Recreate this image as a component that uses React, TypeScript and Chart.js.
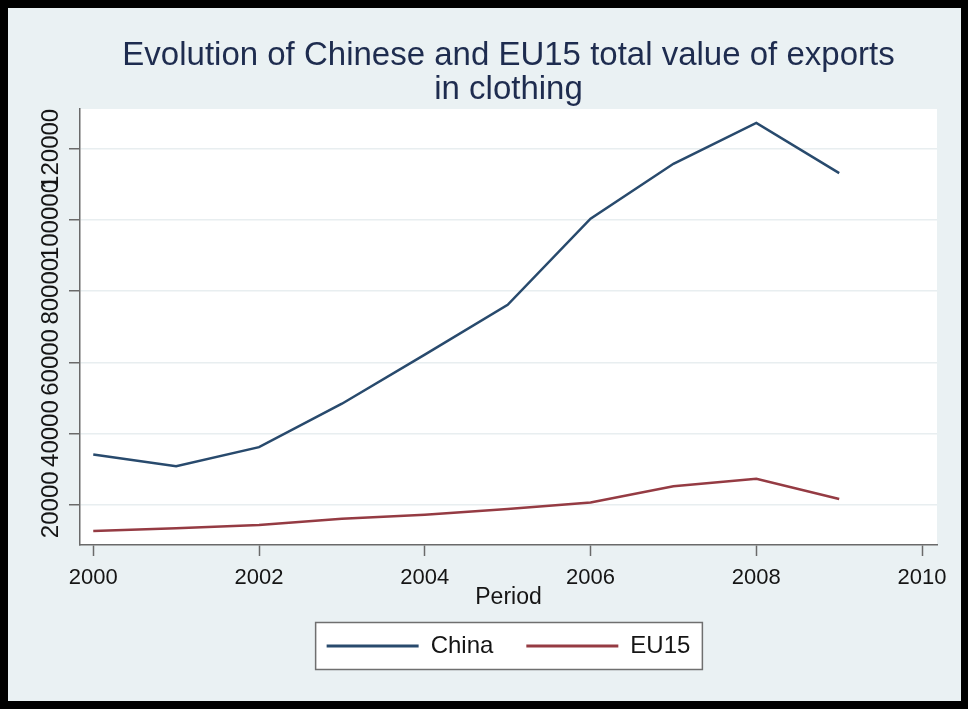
import React, { useEffect, useRef } from 'react';
import { Chart, registerables } from 'chart.js';

Chart.register(...registerables);

// ---- data ----
const years = [2000, 2001, 2002, 2003, 2004, 2005, 2006, 2007, 2008, 2009];
const chinaValues = [34100, 30800, 36200, 48400, 62200, 76200, 100400, 115800, 127300, 113200];
const eu15Values = [12650, 13400, 14350, 16100, 17200, 18800, 20650, 25200, 27300, 21600];
const xTickValues = [2000, 2002, 2004, 2006, 2008, 2010];
const yTickValues = [20000, 40000, 60000, 80000, 100000, 120000];
const seriesNames = ['China', 'EU15'];
const titleLines = ['Evolution of Chinese and EU15 total value of exports', 'in clothing'];
const xAxisTitle = 'Period';

const FAMILY = "'Liberation Sans', Arial, sans-serif";
const CHINA_COLOR = '#284a6d';
const EU_COLOR = '#953b43';
const AXIS_COLOR = '#6a6a6a';
const TEXT_COLOR = '#151515';
const Y_TICK_SIZE = 24;

const backdropPlugin = {
  id: 'backdrop',
  beforeDraw(chart: any) {
    const { ctx, chartArea: a } = chart;
    ctx.save();
    ctx.fillStyle = '#ffffff';
    ctx.fillRect(a.left, a.top, a.right - a.left, a.bottom - a.top);
    const lg = chart.legend;
    if (lg && lg.legendHitBoxes && lg.legendHitBoxes.length) {
      const hb = lg.legendHitBoxes;
      const left = Math.min(...hb.map((h: any) => h.left)) - 11;
      const right = Math.max(...hb.map((h: any) => h.left + h.width)) + 12;
      const cy = hb[0].top + hb[0].height / 2;
      ctx.fillStyle = '#ffffff';
      ctx.fillRect(left, cy - 23.5, right - left, 47);
      ctx.strokeStyle = '#6f6f6f';
      ctx.lineWidth = 1.5;
      ctx.strokeRect(left, cy - 23.5, right - left, 47);
    }
    ctx.restore();
  },
};

export default function App() {
  const canvasRef = useRef<HTMLCanvasElement | null>(null);

  useEffect(() => {
    const canvas = canvasRef.current;
    if (!canvas) return;
    const mctx = document.createElement('canvas').getContext('2d')!;
    mctx.font = `${Y_TICK_SIZE}px ${FAMILY}`;
    const widest = Math.max(...yTickValues.map((v) => mctx.measureText(String(v)).width));

    const chart = new Chart(canvas, {
      type: 'line',
      data: {
        datasets: [
          {
            label: seriesNames[0],
            data: years.map((x, i) => ({ x, y: chinaValues[i] })),
            borderColor: CHINA_COLOR,
            backgroundColor: CHINA_COLOR,
            borderWidth: 2.5,
            pointRadius: 0,
            tension: 0,
            fill: false,
          },
          {
            label: seriesNames[1],
            data: years.map((x, i) => ({ x, y: eu15Values[i] })),
            borderColor: EU_COLOR,
            backgroundColor: EU_COLOR,
            borderWidth: 2.5,
            pointRadius: 0,
            tension: 0,
            fill: false,
          },
        ],
      },
      options: {
        responsive: false,
        animation: false,
        layout: { padding: { left: 0, right: 24, top: 0, bottom: 33 } },
        plugins: {
          tooltip: { enabled: false },
          title: {
            display: true,
            text: titleLines,
            fullSize: false,
            color: '#1e2c4f',
            font: { size: 33, family: FAMILY, weight: 'normal', lineHeight: 34 / 33 },
            padding: { top: 31, bottom: 2 },
          },
          legend: {
            display: true,
            position: 'bottom',
            fullSize: false,
            labels: {
              boxWidth: 92,
              boxHeight: 3,
              padding: 33,
              color: TEXT_COLOR,
              font: { size: 24, family: FAMILY },
              generateLabels: (c: any) =>
                (Chart.defaults.plugins.legend.labels as any)
                  .generateLabels(c)
                  .map((it: any) => ({ ...it, fillStyle: it.strokeStyle, lineWidth: 0 })),
            },
          },
        },
        scales: {
          x: {
            type: 'linear',
            min: 1999.84,
            max: 2010.18,
            bounds: 'data',
            afterBuildTicks: (s: any) => {
              s.ticks = xTickValues.map((v) => ({ value: v }));
            },
            afterFit: (s: any) => {
              s.height = 56;
            },
            grid: {
              drawOnChartArea: false,
              drawTicks: true,
              tickLength: 11,
              tickColor: AXIS_COLOR,
              tickWidth: 1.5,
            },
            border: { display: true, color: AXIS_COLOR, width: 1.5 },
            ticks: {
              autoSkip: false,
              minRotation: 0,
              maxRotation: 0,
              padding: 9,
              color: TEXT_COLOR,
              font: { size: 22, family: FAMILY },
              callback: (v: any) => String(v),
            },
            title: {
              display: true,
              text: xAxisTitle,
              color: TEXT_COLOR,
              font: { size: 23, family: FAMILY, lineHeight: 1.2 },
              padding: { top: 0, bottom: -10 },
            },
          },
          y: {
            type: 'linear',
            min: 8700,
            max: 131200,
            bounds: 'data',
            afterBuildTicks: (s: any) => {
              s.ticks = yTickValues.map((v) => ({ value: v }));
            },
            afterFit: (s: any) => {
              s.width = 72;
            },
            grid: {
              color: '#e8eef0',
              lineWidth: 1.5,
              drawTicks: true,
              tickLength: 11,
              tickColor: AXIS_COLOR,
              tickWidth: 1.5,
            },
            border: { display: true, color: AXIS_COLOR, width: 1.5 },
            ticks: {
              autoSkip: false,
              minRotation: 90,
              maxRotation: 90,
              crossAlign: 'center',
              padding: 18 - widest / 2,
              color: TEXT_COLOR,
              font: { size: Y_TICK_SIZE, family: FAMILY },
              callback: (v: any) => String(v),
            },
          },
        },
      } as any,
      plugins: [backdropPlugin],
    });
    return () => chart.destroy();
  }, []);

  return (
    <div style={{ position: 'absolute', left: 0, top: 0, width: 968, height: 709, background: '#000' }}>
      <div
        style={{
          position: 'absolute',
          left: 8,
          top: 8,
          width: 953,
          height: 693,
          background: '#eaf1f3',
        }}
      >
        <canvas ref={canvasRef} width={953} height={693} style={{ display: 'block' }} />
      </div>
    </div>
  );
}
